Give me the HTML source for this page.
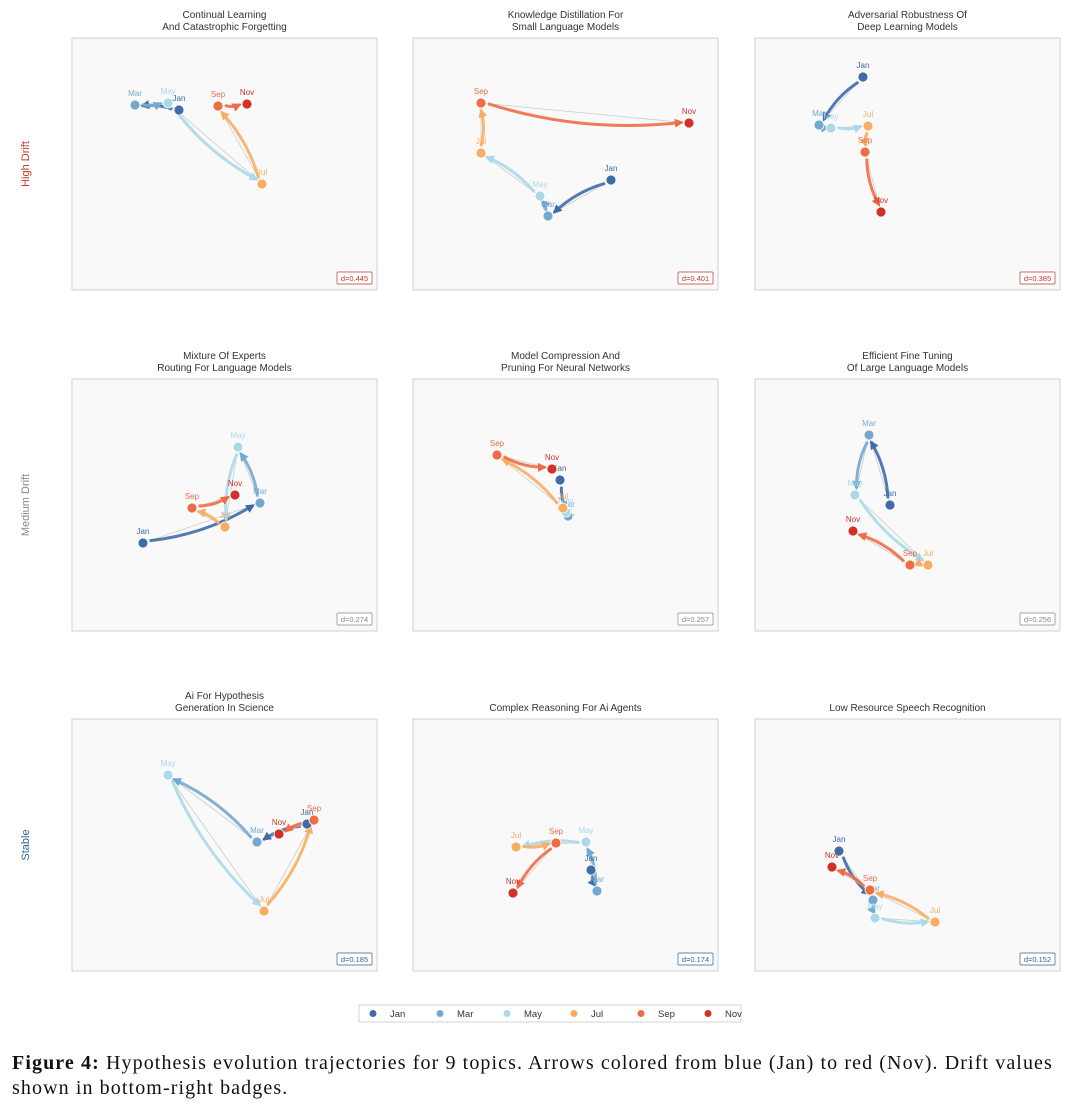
<!DOCTYPE html>
<html><head><meta charset="utf-8"><style>
body{margin:0;background:#fff;width:1080px;height:1107px;overflow:hidden;font-family:"Liberation Sans",sans-serif}
svg{position:absolute;left:0;top:0}
.cap{position:absolute;left:12px;top:1051px;width:1070px;font-family:"Liberation Serif",serif;font-size:20px;letter-spacing:1.1px;line-height:25px;color:#111;white-space:nowrap}
</style></head><body>
<svg id="fig" width="1080" height="1050"></svg>
<div class="cap"><b>Figure 4:</b> Hypothesis evolution trajectories for 9 topics. Arrows colored from blue (Jan) to red (Nov). Drift values<br>shown in bottom-right badges.</div>
<script>
const months=["Jan","Mar","May","Jul","Sep","Nov"];
const colors=["#3d6ca8","#74a9cf","#abd9e9","#f9ad62","#ef6c45","#d2312a"];
const titles=[["Continual Learning","And Catastrophic Forgetting"],["Knowledge Distillation For","Small Language Models"],["Adversarial Robustness Of","Deep Learning Models"],["Mixture Of Experts","Routing For Language Models"],["Model Compression And","Pruning For Neural Networks"],["Efficient Fine Tuning","Of Large Language Models"],["Ai For Hypothesis","Generation In Science"],["Complex Reasoning For Ai Agents"],["Low Resource Speech Recognition"]];
const drifts=["0.445","0.401","0.385","0.274","0.257","0.256","0.185","0.174","0.152"];
const rowLabels=["High Drift","Medium Drift","Stable"];
const rowColors=["#c0392b","#888888","#2f6496"];
const p1x=[107,63,96,190,146,175], p1y=[72,67,65,146,68,66];
const p2x=[198,135,127,68,68,276], p2y=[142,178,158,115,65,85];
const p3x=[108,64,76,113,110,126], p3y=[39,87,90,88,114,174];
const p4x=[71,188,166,153,120,163], p4y=[164,124,68,148,129,116];
const p5x=[147,155,153,150,84,139], p5y=[101,137,133,129,76,90];
const p6x=[135,114,100,173,155,98], p6y=[126,56,116,186,186,152];
const p7x=[235,185,96,192,242,207], p7y=[105,123,56,192,101,115];
const p8x=[178,184,173,103,143,100], p8y=[151,172,123,128,124,174];
const p9x=[84,118,120,180,115,77], p9y=[132,181,199,203,171,148];
const PX=[p1x,p2x,p3x,p4x,p5x,p6x,p7x,p8x,p9x], PY=[p1y,p2y,p3y,p4y,p5y,p6y,p7y,p8y,p9y];
const svg=document.getElementById('fig'),NS="http://www.w3.org/2000/svg";
function mk(t,a,p){const e=document.createElementNS(NS,t);for(const k in a)e.setAttribute(k,a[k]);(p||svg).appendChild(e);return e;}
const defs=mk('defs',{});
colors.forEach((c,i)=>{const m=mk('marker',{id:'ah'+i,viewBox:'0 0 10 10',refX:'8',refY:'5',markerWidth:'3',markerHeight:'3',orient:'auto'},defs);mk('path',{d:'M0,0L10,5L0,10z',fill:c},m);});
const colX=[72,413,755],rowY=[38,379,719],W=305,H=252;
for(let p=0;p<9;p++){
 const r=Math.floor(p/3),c=p%3,x0=colX[c],y0=rowY[r];
 const sx=v=>x0+v/305*W, sy=v=>y0+v/252*H;
 const g=mk('g',{});
 
 
 const bg=mk('rect',{x:x0,y:y0,width:W,height:H,fill:'#f9f9f9',stroke:'#d0d0d0','stroke-width':1},g);
 
 const tl=titles[p];
 tl.forEach((t,i)=>{const tt=mk('text',{x:x0+W/2,y:(tl.length==2?y0-20+i*12:y0-8),'text-anchor':'middle','font-size':'10','fill':'#333'},g);tt.textContent=t;});
 const xs=PX[p],ys=PY[p];
 for(let i=0;i<5;i++){
  const ln=mk('line',{x1:sx(xs[i]),y1:sy(ys[i]),x2:sx(xs[i+1]),y2:sy(ys[i+1]),stroke:'#ccc','stroke-width':0.8},g);
  
  const ax=sx(xs[i]),ay=sy(ys[i]),bx=sx(xs[i+1]),by=sy(ys[i+1]);
  const dx=bx-ax,dy=by-ay,L=Math.hypot(dx,dy)||1;
  const sh=Math.min(7,L*0.25);
  const a2x=bx-dx/L*sh,a2y=by-dy/L*sh,a1x=ax+dx/L*sh,a1y=ay+dy/L*sh;
  const cx=(a1x+a2x)/2-dy/L*L*0.1,cy=(a1y+a2y)/2+dx/L*L*0.1;
  const pa=mk('path',{d:`M${a1x},${a1y}Q${cx},${cy} ${a2x},${a2y}`,fill:'none',stroke:colors[i],'stroke-width':3,'stroke-opacity':0.9,'marker-end':`url(#ah${i})`},g);
  
  
 }
 for(let i=0;i<6;i++){
  const d=mk('circle',{cx:sx(xs[i]),cy:sy(ys[i]),r:5,fill:colors[i],stroke:'#fff','stroke-width':0.8},g);
  
  const t=mk('text',{x:sx(xs[i]),y:sy(ys[i])-9,'text-anchor':'middle','font-size':'8','fill':colors[i]},g);
  t.textContent=months[i];
 }
 const b=mk('rect',{x:x0+W-40,y:y0+H-18,width:35,height:12,fill:'#fff',stroke:rowColors[r],'stroke-width':0.7,rx:1},g);
 
 const bt=mk('text',{x:x0+W-22.5,y:y0+H-9,'text-anchor':'middle','font-size':'7.5','fill':rowColors[r]},g);
 bt.textContent='d='+drifts[p];
}
rowLabels.forEach((l,r)=>{const cy=rowY[r]+126;const t=mk('text',{x:29,y:cy,'text-anchor':'middle','font-size':'11','fill':rowColors[r],transform:`rotate(-90 29 ${cy})`});t.textContent=l;});
const lg=mk('g',{});

mk('rect',{x:359,y:1005,width:382,height:17,fill:'#fff',stroke:'#ccc','stroke-width':0.8},lg);
months.forEach((m,i)=>{const x=373+i*67;const d=mk('circle',{cx:x,cy:1013.5,r:3.5,fill:colors[i]},lg);const t=mk('text',{x:x+17,y:1017,'font-size':'9.5','fill':'#333'},lg);t.textContent=m;});
</script>
</body></html>
